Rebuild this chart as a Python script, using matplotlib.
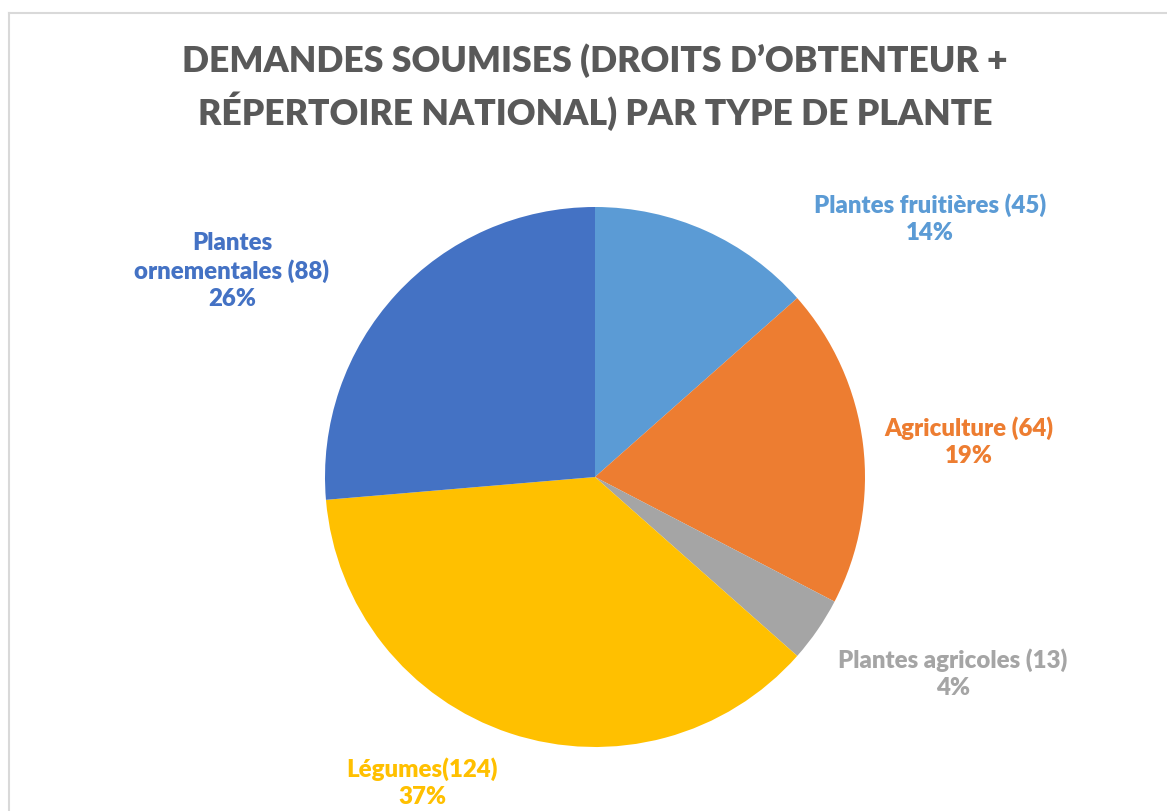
import matplotlib.pyplot as plt

W, H = 1167, 812

categories = ["Plantes fruitières", "Agriculture", "Plantes agricoles", "Légumes", "Plantes ornementales"]
counts = [45, 64, 13, 124, 88]
label_texts = ["Plantes fruitières (45)\n14%",
               "Agriculture (64)\n19%",
               "Plantes agricoles (13)\n4%",
               "Légumes(124)\n37%",
               "Plantes\nornementales (88)\n26%"]
colors = ["#5B9BD5", "#ED7D31", "#A5A5A5", "#FFC000", "#4472C4"]
# label block centres in pixel coords (x, y from top)
label_pos = [(930, 219), (969, 442), (953, 674), (422, 783), (232, 271)]

plt.rcParams['font.family'] = ['Lato', 'DejaVu Sans']

fig = plt.figure(figsize=(W / 100, H / 100), dpi=100)
ax = fig.add_axes([0, 0, 1, 1])

# chart frame
ax.plot([9, W], [H - 14, H - 14], color="#D9D9D9", lw=1.5)
ax.plot([9, 9], [H - 14, 0], color="#D9D9D9", lw=1.5)

ax.pie(counts, colors=colors, startangle=90, counterclock=False,
       center=(595, H - 478), radius=270, frame=True,
       wedgeprops=dict(linewidth=0))
ax.set_xlim(0, W)
ax.set_ylim(0, H)
ax.axis('off')

ax.text(595, H - 87, "DEMANDES SOUMISES (DROITS D\u2019OBTENTEUR +\nRÉPERTOIRE NATIONAL) PAR TYPE DE PLANTE",
        ha='center', va='center', fontsize=25.6, fontweight='heavy', color="#595959",
        linespacing=1.4)

for txt, (x, y), c in zip(label_texts, label_pos, colors):
    ax.text(x, H - y, txt, ha='center', va='center', fontsize=17.3,
            fontweight='heavy', color=c, linespacing=1.28)

fig.savefig("out.png", dpi=100)
